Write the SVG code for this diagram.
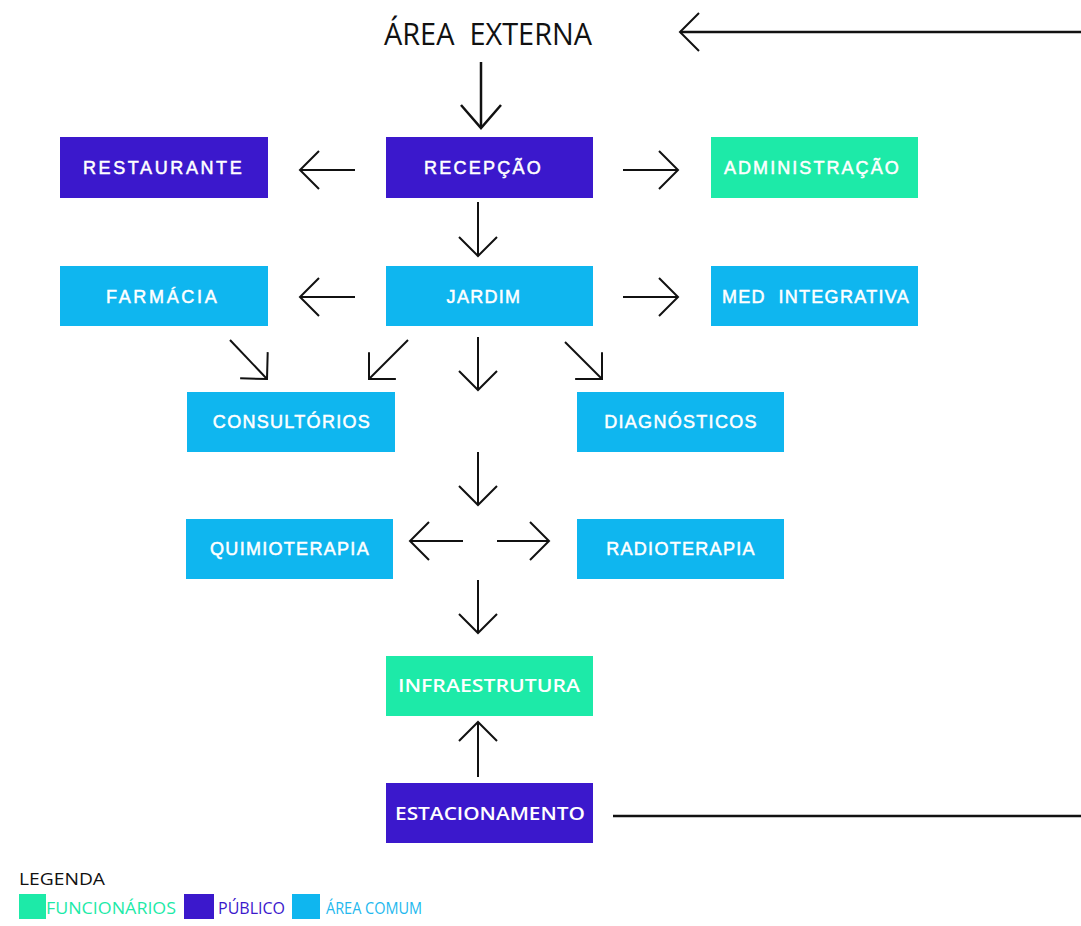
<svg xmlns="http://www.w3.org/2000/svg" width="1081" height="926" viewBox="0 0 1081 926">
<style>
.pub{fill:#3b18cc}
.fun{fill:#1deaa8}
.com{fill:#0fb6ef}
.lbl{font-family:"Liberation Sans",Arial,sans-serif;font-size:18px;fill:#fff;letter-spacing:1.3px;text-anchor:middle;stroke:#fff;stroke-width:0.5}
.lbl2{font-family:"Open Sans","Liberation Sans",sans-serif;font-size:18px;font-weight:600;fill:#fff;text-anchor:middle}
.cn line{stroke:#111;stroke-width:2;fill:none;marker-end:url(#ah)}
.leg{font-family:"Open Sans","Liberation Sans",sans-serif;font-size:17px}
</style>
<defs>
<marker id="ah" viewBox="-25 -25 30 50" markerUnits="userSpaceOnUse" markerWidth="30" markerHeight="50" refX="0" refY="0" orient="auto" overflow="visible">
<path d="M -19 -19 L 0 0 L -19 19" fill="none" stroke="#111" stroke-width="2"/>
</marker>
<marker id="ahb" viewBox="-30 -30 35 60" markerUnits="userSpaceOnUse" markerWidth="35" markerHeight="60" refX="0" refY="0" orient="auto" overflow="visible">
<path d="M -23 -20 L 0 0 L -23 20" fill="none" stroke="#111" stroke-width="2.5"/>
</marker>
</defs>
<rect width="1081" height="926" fill="#fff"/>

<g id="area-externa">
<text x="488" y="45" font-family="'Open Sans','Liberation Sans',sans-serif" font-size="31" fill="#111" textLength="208" lengthAdjust="spacingAndGlyphs" text-anchor="middle">ÁREA&#160; EXTERNA</text>
</g>

<g id="restaurante"><rect class="pub" x="60" y="137" width="208" height="61"/><text class="lbl" x="163" y="174" textLength="160" lengthAdjust="spacing">RESTAURANTE</text></g>
<g id="recepcao"><rect class="pub" x="386" y="137" width="207" height="61"/><text class="lbl" x="483" y="174" textLength="118" lengthAdjust="spacing">RECEPÇÃO</text></g>
<g id="administracao"><rect class="fun" x="711" y="137" width="207" height="61"/><text class="lbl" x="812" y="174" textLength="176" lengthAdjust="spacing">ADMINISTRAÇÃO</text></g>

<g id="farmacia"><rect class="com" x="60" y="266" width="208" height="60"/><text class="lbl" x="162" y="303" textLength="112" lengthAdjust="spacing">FARMÁCIA</text></g>
<g id="jardim"><rect class="com" x="386" y="266" width="207" height="60"/><text class="lbl" x="484" y="303">JARDIM</text></g>
<g id="med-integrativa"><rect class="com" x="711" y="266" width="207" height="60"/><text class="lbl" x="816" y="303">MED&#160; INTEGRATIVA</text></g>

<g id="consultorios"><rect class="com" x="187" y="392" width="208" height="60"/><text class="lbl" x="292" y="428">CONSULTÓRIOS</text></g>
<g id="diagnosticos"><rect class="com" x="577" y="392" width="207" height="60"/><text class="lbl" x="681" y="428">DIAGNÓSTICOS</text></g>

<g id="quimioterapia"><rect class="com" x="186" y="519" width="207" height="60"/><text class="lbl" x="290" y="555">QUIMIOTERAPIA</text></g>
<g id="radioterapia"><rect class="com" x="577" y="519" width="207" height="60"/><text class="lbl" x="681" y="555">RADIOTERAPIA</text></g>

<g id="infraestrutura"><rect class="fun" x="386" y="656" width="207" height="60"/><text class="lbl2" x="489" y="692" textLength="182" lengthAdjust="spacingAndGlyphs">INFRAESTRUTURA</text></g>
<g id="estacionamento"><rect class="pub" x="386" y="783" width="207" height="60"/><text class="lbl2" x="490" y="820" textLength="190" lengthAdjust="spacingAndGlyphs">ESTACIONAMENTO</text></g>

<g id="connectors" class="cn">
<line x1="1081" y1="32" x2="680" y2="32" style="stroke-width:2.4"/>
<line x1="481" y1="62" x2="481" y2="128" style="stroke-width:2.5;marker-end:url(#ahb)"/>
<line x1="355" y1="170" x2="300" y2="170"/>
<line x1="623" y1="170" x2="678" y2="170"/>
<line x1="478" y1="202" x2="478" y2="256"/>
<line x1="355" y1="297" x2="300" y2="297"/>
<line x1="623" y1="297" x2="678" y2="297"/>
<line x1="230" y1="340" x2="267" y2="379"/>
<line x1="408" y1="340" x2="369" y2="379"/>
<line x1="478" y1="337" x2="478" y2="390"/>
<line x1="565" y1="342" x2="602" y2="379"/>
<line x1="478" y1="452" x2="478" y2="505"/>
<line x1="463" y1="541" x2="410" y2="541"/>
<line x1="497" y1="541" x2="549" y2="541"/>
<line x1="478" y1="580" x2="478" y2="633"/>
<line x1="478" y1="777" x2="478" y2="722"/>
<line x1="613" y1="816" x2="1081" y2="816" style="stroke-width:2.4;marker-end:none"/>
</g>

<g id="legenda">
<text class="leg" x="19" y="885" fill="#111" textLength="86" lengthAdjust="spacingAndGlyphs">LEGENDA</text>
<rect class="fun" x="19" y="894" width="27" height="25"/>
<text class="leg" x="46" y="914" fill="#1deaa8" textLength="130" lengthAdjust="spacingAndGlyphs">FUNCIONÁRIOS</text>
<rect class="pub" x="184" y="894" width="30" height="25"/>
<text class="leg" x="218" y="914" fill="#3b18cc" textLength="67" lengthAdjust="spacingAndGlyphs">PÚBLICO</text>
<rect class="com" x="292" y="894" width="28" height="25"/>
<text class="leg" x="326" y="914" fill="#22b8ee" textLength="96" lengthAdjust="spacingAndGlyphs">ÁREA COMUM</text>
</g>
</svg>
